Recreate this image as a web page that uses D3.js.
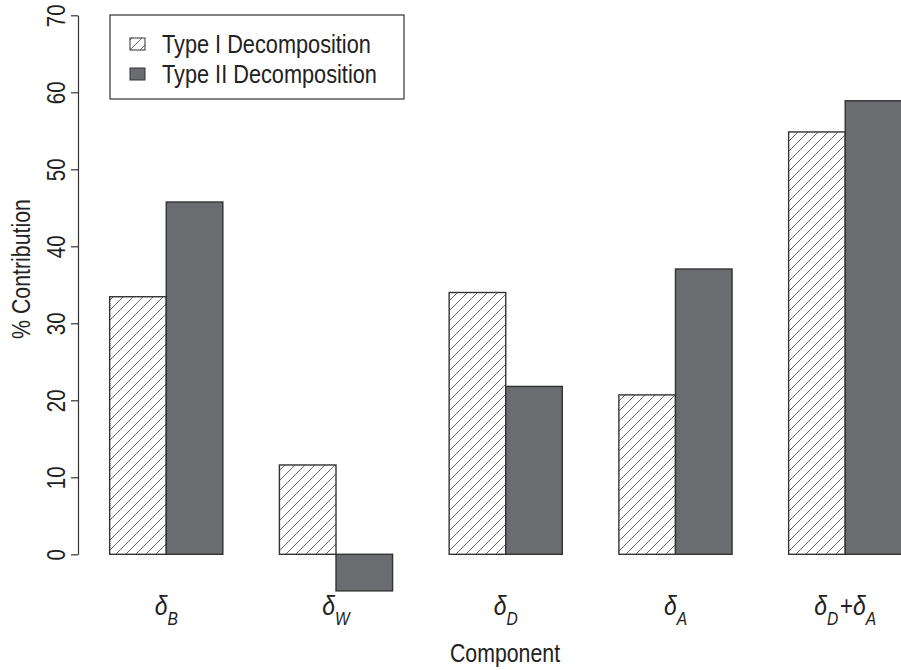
<!DOCTYPE html>
<html>
<head>
<meta charset="utf-8">
<script src="https://cdn.jsdelivr.net/npm/d3@7"></script>
<style>
  html, body { margin: 0; padding: 0; background: #fff; }
  svg { display: block; }
  text { font-family: "Liberation Sans", Arial, sans-serif; fill: #222; }
</style>
</head>
<body>
<svg id="chart" width="901" height="670"></svg>
<script>
// ---- data ----
const categories = ["B", "W", "D", "A", "D+A"];
const series = ["Type I Decomposition", "Type II Decomposition"];
const typeI = [33.45, 11.6, 34.0, 20.7, 54.85];
const typeII = [45.75, -4.75, 21.8, 37.05, 58.9];
const yTicks = [0, 10, 20, 30, 40, 50, 60, 70];
const yLabel = "% Contribution";
const xLabel = "Component";

const svg = d3.select("#chart");
const NARROW = "scale(0.82,1)";

// R-style barplot coordinates: bar units, groups of 2 bars with 1-unit gaps
const x = d3.scaleLinear().domain([0, 15]).range([53.1, 901.8]);
const y = d3.scaleLinear().domain([0, 70]).range([554.3, 15.3]);

const defs = svg.append("defs");
const pat = defs.append("pattern")
  .attr("id", "hatch")
  .attr("patternUnits", "userSpaceOnUse")
  .attr("width", 10).attr("height", 10);
pat.append("rect").attr("width", 10).attr("height", 10).attr("fill", "#fff");
pat.append("path")
  .attr("d", "M0,10 L10,0 M-2,2 L2,-2 M8,12 L12,8")
  .attr("stroke", "#6a6a6a").attr("stroke-width", 1);

const darkFill = "#6b6c70";
const edge = "#333";

// bars
const barData = [];
categories.forEach((c, g) => {
  barData.push({ g, s: 0, v: typeI[g] });
  barData.push({ g, s: 1, v: typeII[g] });
});
svg.append("g").selectAll("rect").data(barData).join("rect")
  .attr("x", d => x(1 + 3 * d.g + d.s))
  .attr("width", d => x(2 + 3 * d.g + d.s) - x(1 + 3 * d.g + d.s))
  .attr("y", d => Math.min(y(d.v), y(0)))
  .attr("height", d => Math.abs(y(d.v) - y(0)))
  .attr("fill", d => d.s === 0 ? "url(#hatch)" : darkFill)
  .attr("stroke", edge).attr("stroke-width", 1.4);

// y axis
const yAxis = d3.axisLeft(y).tickValues(yTicks).tickSize(7).tickSizeOuter(0).tickPadding(0);
const ga = svg.append("g").attr("transform", "translate(78,0)").call(yAxis);
ga.select(".domain").attr("stroke", edge).attr("stroke-width", 1.2);
ga.selectAll(".tick line").attr("stroke", edge).attr("stroke-width", 1.2);
ga.selectAll(".tick text")
  .attr("x", 0).attr("dy", null).attr("y", 0)
  .attr("text-anchor", "middle")
  .attr("transform", "translate(-13,0) rotate(-90) " + NARROW)
  .attr("font-size", 25)
  .attr("font-family", null)
  .style("fill", "#222");

// y label
svg.append("text")
  .attr("transform", "translate(30,269) rotate(-90) " + NARROW)
  .attr("text-anchor", "middle")
  .attr("font-size", 26)
  .text(yLabel);

// x label
svg.append("text")
  .attr("transform", "translate(505,662) " + NARROW)
  .attr("text-anchor", "middle")
  .attr("font-size", 26)
  .text(xLabel);

// category labels (delta with subscripts)
categories.forEach((c, g) => {
  const cx = x(2 + 3 * g);
  const t = svg.append("text")
    .attr("transform", `translate(${cx},615) ` + NARROW)
    .attr("text-anchor", "middle")
    .attr("font-style", "italic");
  const parts = c.split("+");
  parts.forEach((p, i) => {
    if (i > 0) {
      t.append("tspan").attr("font-size", 27).attr("font-style", "normal").attr("dy", -10).attr("dx", 2).text("+");
      t.append("tspan").attr("font-size", 28).text("\u03b4");
    } else {
      t.append("tspan").attr("font-size", 28).text("\u03b4");
    }
    t.append("tspan").attr("font-size", 19).attr("dy", 10).text(p);
  });
});

// legend
const lg = svg.append("g");
lg.append("rect").attr("x", 110).attr("y", 15).attr("width", 294).attr("height", 84)
  .attr("fill", "#fff").attr("stroke", edge).attr("stroke-width", 1.2);
series.forEach((s, i) => {
  lg.append("rect").attr("x", 130).attr("y", 38 + i * 30).attr("width", 15).attr("height", 12)
    .attr("fill", i === 0 ? "url(#hatch)" : darkFill)
    .attr("stroke", edge).attr("stroke-width", 1);
  lg.append("text").attr("transform", `translate(162,${53 + i * 29.5}) ` + NARROW)
    .attr("font-size", 26.5).text(s);
});
</script>
</body>
</html>
